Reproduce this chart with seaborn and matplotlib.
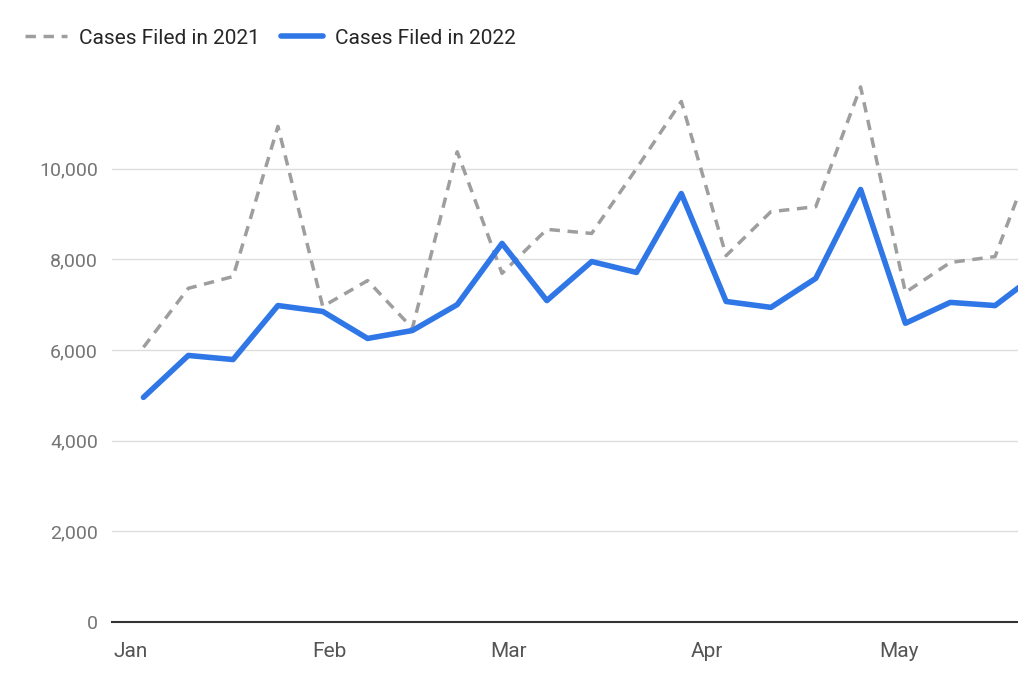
import matplotlib
matplotlib.use("Agg")
import matplotlib.pyplot as plt
import seaborn as sns
import pandas as pd
import numpy as np
import matplotlib.dates as mdates
from matplotlib.ticker import FuncFormatter

dates = pd.date_range("2022-01-03", periods=21, freq="7D")
cases_2021 = [6060, 7360, 7620, 10930, 6960, 7530, 6480, 10370, 7690, 8660, 8570,
              10000, 11480, 8080, 9050, 9160, 11800, 7270, 7930, 8060, 10660]
cases_2022 = [4956, 5880, 5790, 6980, 6850, 6255, 6430, 7000, 8350, 7090, 7950,
              7710, 9450, 7070, 6940, 7580, 9540, 6590, 7050, 6980, 7730]
labels = ["Cases Filed in 2021", "Cases Filed in 2022"]

df = pd.DataFrame({"date": dates, labels[0]: cases_2021, labels[1]: cases_2022})

sns.set_style("white")
plt.rcParams['font.family'] = ['Roboto', 'DejaVu Sans']
fig = plt.figure(figsize=(10.18, 6.89), dpi=100)
ax = fig.add_axes([0.11, 0.097, 0.89, 0.79])

sns.lineplot(data=df, x="date", y=labels[0], ax=ax, color="#9e9e9e", lw=2.5,
             linestyle=(0, (3, 2.2)), label=labels[0])
sns.lineplot(data=df, x="date", y=labels[1], ax=ax, color="#2f76e6", lw=4,
             label=labels[1])

ax.set_xlim(pd.Timestamp("2021-12-29 02:00"), pd.Timestamp("2022-05-19 14:00"))
ax.set_ylim(0, 12000)
ax.set_yticks(range(0, 10001, 2000))
ax.yaxis.set_major_formatter(FuncFormatter(lambda v, p: f"{int(v):,}"))
ax.xaxis.set_major_locator(mdates.MonthLocator())
ax.xaxis.set_major_formatter(mdates.DateFormatter("%b"))
ax.grid(axis="y", color="#dddddd", lw=1)
ax.set_xlabel("")
ax.set_ylabel("")
for s in ["top", "right", "left"]:
    ax.spines[s].set_visible(False)
ax.spines["bottom"].set_color("#333333")
ax.spines["bottom"].set_linewidth(1.5)
ax.tick_params(axis="y", length=0, labelsize=14, colors="#757575", pad=10)
ax.tick_params(axis="x", length=0, labelsize=15, colors="#555555", pad=14)

ax.legend(loc="lower left", bbox_to_anchor=(-0.105, 1.04), ncol=2, frameon=False,
          fontsize=15, handlelength=2.0, columnspacing=1.0, borderaxespad=0,
          handletextpad=0.6)
fig.savefig("out.png", dpi=100)
